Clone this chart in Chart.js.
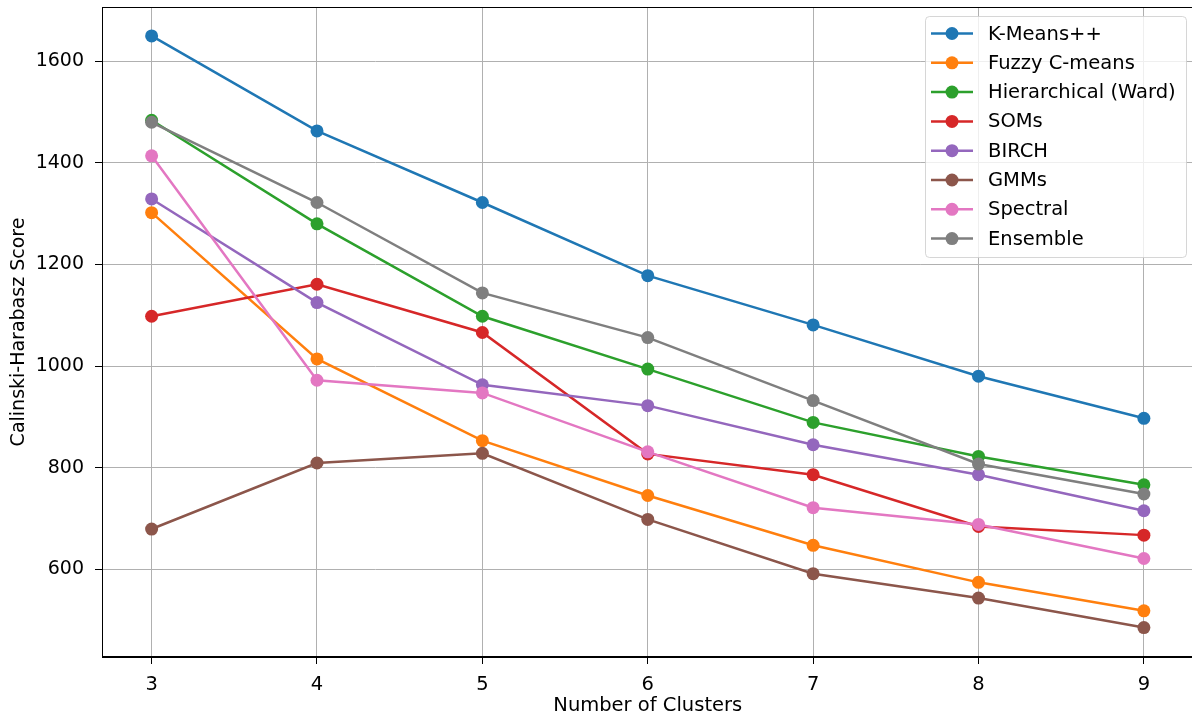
<!DOCTYPE html>
<html lang="en">
<head>
    <meta charset="UTF-8">
    <title>Calinski-Harabasz Score</title>
    <style>
        body {
            margin: 0;
            padding: 0;
            background-color: #fff;
        }

        /* the reference crops the right spine off, so the canvas is a bit wider than the view */
        #wrap {
            width: 1192px;
            height: 719px;
            overflow: hidden;
        }
    </style>
    <script src="https://cdn.jsdelivr.net/npm/chart.js"></script>
</head>
<body>
    <div id="wrap">
        <canvas id="scoreChart" width="1200" height="719"></canvas>
    </div>
    <script>
        // data
        const clusters = [3, 4, 5, 6, 7, 8, 9];
        const yTicks = [600, 800, 1000, 1200, 1400, 1600];

        const kmeans   = [1650, 1463, 1322, 1178, 1081, 980, 897];
        const fuzzy    = [1302, 1014, 853, 745, 647, 574, 518];
        const ward     = [1484, 1280, 1098, 994, 889, 822, 766];
        const soms     = [1098, 1161, 1066, 827, 786, 684, 667];
        const birch    = [1329, 1125, 963, 922, 845, 786, 715];
        const gmms     = [679, 809, 828, 698, 591, 543, 485];
        const spectral = [1414, 972, 947, 831, 721, 688, 621];
        const ensemble = [1480, 1322, 1144, 1056, 932, 807, 748];

        const labels = ['K-Means++', 'Fuzzy C-means', 'Hierarchical (Ward)', 'SOMs', 'BIRCH', 'GMMs', 'Spectral', 'Ensemble'];
        const series = [kmeans, fuzzy, ward, soms, birch, gmms, spectral, ensemble];
        const colors = ['#1f77b4', '#ff7f0e', '#2ca02c', '#d62728', '#9467bd', '#8c564b', '#e377c2', '#7f7f7f'];

        const FONT = 'DejaVu Sans';

        const datasets = series.map((vals, i) => ({
            label: labels[i],
            data: clusters.map((c, j) => ({ x: c, y: vals[j] })),
            borderColor: colors[i],
            backgroundColor: colors[i],
            borderWidth: 2.5,
            pointRadius: 6.5,
            pointBorderWidth: 0,
            pointHoverRadius: 6.5,
            tension: 0,
            order: labels.length - i  // later series on top, like matplotlib
        }));

        // full frame around the plot area
        const frame = {
            id: 'frame',
            afterDatasetsDraw(chart) {
                const a = chart.chartArea;
                const ctx = chart.ctx;
                ctx.save();
                ctx.strokeStyle = '#000';
                ctx.lineWidth = 1;
                ctx.strokeRect(a.left + 0.5, a.top + 0.5, a.right - a.left - 1, a.bottom - a.top - 1);
                ctx.restore();
            }
        };

        // legend box inside the upper right corner
        const innerLegend = {
            id: 'innerLegend',
            afterDraw(chart) {
                const ctx = chart.ctx;
                const box = { x: 925, y: 16, w: 261, h: 241 };
                ctx.save();
                ctx.beginPath();
                ctx.roundRect(box.x + 0.5, box.y + 0.5, box.w, box.h, 4);
                ctx.fillStyle = 'rgba(255,255,255,0.8)';
                ctx.fill();
                ctx.strokeStyle = 'rgba(204,204,204,0.8)';
                ctx.lineWidth = 1;
                ctx.stroke();

                ctx.font = '19.5px "' + FONT + '"';
                ctx.textBaseline = 'middle';
                ctx.textAlign = 'left';
                labels.forEach((name, i) => {
                    const cy = 33.5 + i * 29.3;
                    ctx.strokeStyle = colors[i];
                    ctx.lineWidth = 2.5;
                    ctx.beginPath();
                    ctx.moveTo(931, cy);
                    ctx.lineTo(973, cy);
                    ctx.stroke();
                    ctx.fillStyle = colors[i];
                    ctx.beginPath();
                    ctx.arc(952, cy, 6.5, 0, Math.PI * 2);
                    ctx.fill();
                    ctx.fillStyle = '#000';
                    ctx.fillText(name, 988, cy + 1);
                });
                ctx.restore();
            }
        };

        const ctx = document.getElementById('scoreChart').getContext('2d');
        const scoreChart = new Chart(ctx, {
            type: 'line',
            data: { datasets: datasets },
            options: {
                responsive: false,
                animation: false,
                devicePixelRatio: 1,
                layout: {
                    padding: { left: 0, right: 2, top: 7, bottom: 0 }
                },
                plugins: {
                    legend: { display: false },
                    tooltip: { enabled: false }
                },
                scales: {
                    x: {
                        type: 'linear',
                        min: 2.7,
                        max: 9.3,
                        afterBuildTicks: (scale) => {
                            scale.ticks = clusters.map(v => ({ value: v }));
                        },
                        afterFit: (scale) => {
                            scale.height = 62;
                            scale.paddingLeft = 0;
                            scale.paddingRight = 0;
                        },
                        grid: {
                            color: '#b0b0b0',
                            lineWidth: 1,
                            tickLength: 7,
                            tickColor: '#000'
                        },
                        border: { color: '#000', width: 1 },
                        ticks: {
                            color: '#000',
                            padding: 9,
                            font: { family: FONT, size: 19.5 },
                            callback: (v) => String(v)
                        },
                        title: {
                            display: true,
                            text: 'Number of Clusters',
                            color: '#000',
                            font: { family: FONT, size: 19.5 },
                            padding: { top: 0, bottom: 1 }
                        }
                    },
                    y: {
                        min: 427,
                        max: 1707,
                        afterBuildTicks: (scale) => {
                            scale.ticks = yTicks.map(v => ({ value: v }));
                        },
                        afterFit: (scale) => {
                            scale.width = 102;
                            scale.paddingTop = 0;
                            scale.paddingBottom = 0;
                        },
                        grid: {
                            color: '#b0b0b0',
                            lineWidth: 1,
                            tickLength: 7,
                            tickColor: '#000'
                        },
                        border: { color: '#000', width: 1 },
                        ticks: {
                            color: '#000',
                            padding: 11,
                            font: { family: FONT, size: 19 },
                            callback: (v) => String(v)
                        },
                        title: {
                            display: true,
                            text: 'Calinski-Harabasz Score',
                            color: '#000',
                            font: { family: FONT, size: 19 },
                            padding: { top: 8, bottom: 0 }
                        }
                    }
                }
            },
            plugins: [frame, innerLegend]
        });
    </script>
</body>
</html>
